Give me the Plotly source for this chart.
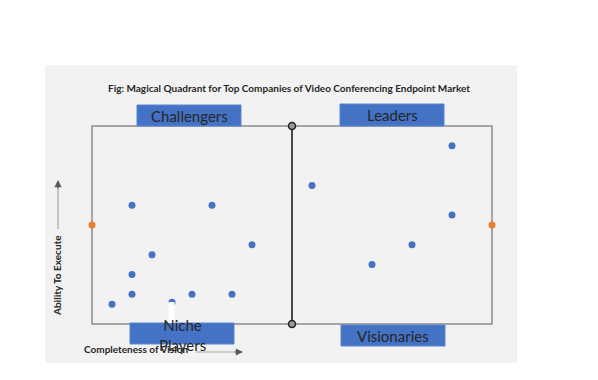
import plotly.graph_objects as go

# ---- data ----
company_x = [2, 6, 3, 2, 2, 5, 7, 1, 4, 8, 11, 18, 18, 16, 14]
company_y = [6, 6, 3.5, 2.5, 1.5, 1.5, 1.5, 1, 1.1, 4, 7, 9, 5.5, 4, 3]
axis_mark_x = [0, 20]
axis_mark_y = [5, 5]
divider_x = [10, 10]
divider_y = [0, 10]
quadrant_names = ["Challengers", "Leaders", "Niche<br>Players", "Visionaries"]
title_text = "Fig: Magical Quadrant for Top Companies of Video Conferencing Endpoint Market"
x_title = "Completeness of Vision"
y_title = "Ability To Execute"

OFF = 8  # page body margin
W, H = 590, 372
L, R, T, B = 84, 106, 118, 56
PW, PH = W - L - R, H - T - B

def px(xp):  # page pixel x -> paper
    return (xp - OFF - L) / PW

def py(yp):  # page pixel y -> paper
    return (H - B - (yp - OFF)) / PH

BLUE = "#4472C4"
ORANGE = "#ED7D31"
FONT = "Lato"

fig = go.Figure()

# divider line with end markers
fig.add_trace(go.Scatter(
    x=divider_x, y=divider_y, mode="lines+markers",
    line=dict(color="#111111", width=1.5),
    marker=dict(symbol="circle", size=7, color="#9a9a9a",
                line=dict(color="#222222", width=1.5)),
    cliponaxis=False, hoverinfo="skip", showlegend=False))

fig.add_trace(go.Scatter(
    x=company_x, y=company_y, mode="markers",
    marker=dict(size=7, color=BLUE), cliponaxis=False, showlegend=False))

fig.add_trace(go.Scatter(
    x=axis_mark_x, y=axis_mark_y, mode="markers",
    marker=dict(size=7, color=ORANGE), cliponaxis=False, showlegend=False))

shapes = []
# gray panel
shapes.append(dict(type="rect", xref="paper", yref="paper",
                   x0=px(45), x1=px(517), y0=py(363), y1=py(65),
                   fillcolor="#f2f2f2", line=dict(width=0), layer="below"))
# quadrant border
shapes.append(dict(type="rect", xref="paper", yref="paper",
                   x0=0, x1=1, y0=0, y1=1,
                   fillcolor="rgba(0,0,0,0)", line=dict(color="#8c8c8c", width=1.5),
                   layer="below"))

# quadrant label boxes (pixel extents)
boxes = [(137, 241, 105, 126), (340, 444, 104, 126), (130, 234, 323, 344), (341, 445, 325, 346)]
for (x0, x1, y0, y1), name in zip(boxes, quadrant_names):
    shapes.append(dict(type="rect", xref="paper", yref="paper",
                       x0=px(x0), x1=px(x1), y0=py(y1), y1=py(y0),
                       fillcolor=BLUE, line=dict(color="#5b86d0", width=1), layer="above"))

# white strip near niche label
shapes.append(dict(type="rect", xref="paper", yref="paper",
                   x0=px(168.5), x1=px(174.5), y0=py(323), y1=py(302),
                   fillcolor="white", line=dict(width=0), layer="above"))

# axis arrows
shapes.append(dict(type="line", xref="paper", yref="paper",
                   x0=px(58), x1=px(58), y0=py(229), y1=py(186),
                   line=dict(color="#a6a6a6", width=1.2)))
shapes.append(dict(type="line", xref="paper", yref="paper",
                   x0=px(196), x1=px(236), y0=py(352), y1=py(352),
                   line=dict(color="#a6a6a6", width=1.2)))

annotations = []
centers = [(189, 115.5), (392, 115), (182, 334.5), (393, 335.5)]
for (cx, cy), name in zip(centers, quadrant_names):
    annotations.append(dict(x=px(cx), y=py(cy), xref="paper", yref="paper",
                            text=name, showarrow=False,
                            font=dict(family=FONT, size=15, color="#262626"),
                            xanchor="center", yanchor="middle"))

annotations.append(dict(x=px(289), y=py(88), xref="paper", yref="paper",
                        text="<b>" + title_text + "</b>", showarrow=False,
                        font=dict(family=FONT, size=10, color="#262626"),
                        xanchor="center", yanchor="middle"))
annotations.append(dict(x=px(82), y=py(349), xref="paper", yref="paper",
                        text="<b>" + x_title + "</b>", showarrow=False,
                        font=dict(family=FONT, size=10, color="#262626"),
                        xanchor="left", yanchor="middle"))
annotations.append(dict(x=px(57), y=py(276), xref="paper", yref="paper",
                        text="<b>" + y_title + "</b>", showarrow=False, textangle=-90,
                        font=dict(family=FONT, size=10, color="#262626"),
                        xanchor="center", yanchor="middle"))
# arrow heads
annotations.append(dict(x=px(58), y=py(180), ax=0, ay=10,
                        xref="paper", yref="paper", axref="pixel", ayref="pixel",
                        text="", showarrow=True, arrowhead=2, arrowsize=1.2,
                        arrowwidth=1.2, arrowcolor="#595959"))
annotations.append(dict(x=px(243), y=py(352), ax=-10, ay=0,
                        xref="paper", yref="paper", axref="pixel", ayref="pixel",
                        text="", showarrow=True, arrowhead=2, arrowsize=1.2,
                        arrowwidth=1.2, arrowcolor="#595959"))

fig.update_layout(
    width=W, height=H,
    margin=dict(l=L, r=R, t=T, b=B),
    paper_bgcolor="white", plot_bgcolor="rgba(0,0,0,0)",
    xaxis=dict(range=[0, 20], visible=False, fixedrange=True),
    yaxis=dict(range=[0, 10], visible=False, fixedrange=True),
    shapes=shapes, annotations=annotations,
    showlegend=False,
)

fig.write_html("out.html")
